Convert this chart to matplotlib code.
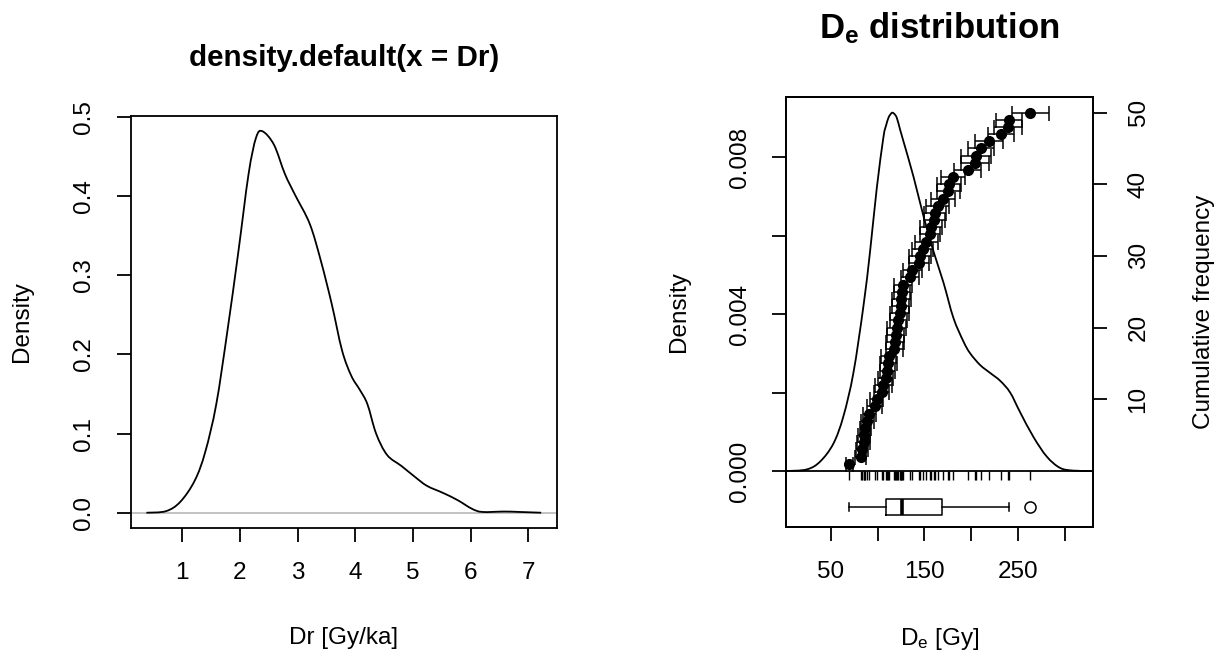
import numpy as np
import matplotlib
matplotlib.use("Agg")
import matplotlib.pyplot as plt
from matplotlib.path import Path
from matplotlib.patches import PathPatch

plt.rcParams['font.family'] = ['Liberation Sans', 'DejaVu Sans']
plt.rcParams['mathtext.fontset'] = 'custom'
plt.rcParams['mathtext.rm'] = 'Liberation Sans'
plt.rcParams['mathtext.it'] = 'Liberation Sans:italic'
plt.rcParams['mathtext.bf'] = 'Liberation Sans:bold'

# ---- Left panel: density of Dr ----
dr_x = [0.38, 0.72, 0.97, 1.22, 1.40, 1.59, 1.78, 1.97, 2.15, 2.28, 2.39, 2.59, 2.78,
        2.96, 3.21, 3.40, 3.59, 3.77, 3.93, 4.08, 4.21, 4.36, 4.55, 4.80, 5.02, 5.24,
        5.52, 5.77, 6.02, 6.20, 6.58, 6.83, 7.22]
dr_density = [0.0, 0.002, 0.014, 0.041, 0.077, 0.137, 0.228, 0.328, 0.428, 0.474, 0.482,
              0.465, 0.428, 0.401, 0.365, 0.319, 0.264, 0.205, 0.173, 0.155, 0.137, 0.100,
              0.073, 0.059, 0.046, 0.034, 0.025, 0.016, 0.005, 0.001, 0.0015, 0.001, 0.0]
left_xticks = [1, 2, 3, 4, 5, 6, 7]
left_yticks = [0.0, 0.1, 0.2, 0.3, 0.4, 0.5]

# ---- Right panel: De distribution ----
de_values = [70, 82, 83.5, 85, 85.5, 87, 89, 91, 97, 99,
             104.5, 106, 108.5, 110.5, 111.5, 112, 118, 118.5, 119.5, 120.5,
             122, 123.5, 124.5, 125.5, 126, 127, 134.5, 137, 144, 145,
             148, 152, 156, 157, 160.5, 161.5, 164, 170, 175.5, 176,
             180.6, 196, 204, 205, 210.6, 219, 232, 239, 240, 263]
de_errors = [4, 6, 6, 7, 6, 6, 7, 7, 8, 7,
             8, 9, 8, 8, 9, 8, 9, 10, 9, 10,
             9, 10, 9, 10, 9, 10, 10, 10, 11, 12,
             11, 12, 11, 12, 11, 12, 12, 13, 12, 13,
             13, 14, 15, 16, 14, 15, 14, 15, 14, 20]
kde_x = [3, 24.5, 38.7, 52.9, 63.6, 74.2, 84.9, 92, 99.1, 106.2, 109, 111.6, 113.5, 115.5,
         117.8, 120.5, 124, 127.6, 138.3, 148.9, 159.6, 170.3, 180.9, 191.6, 198.7, 209.4,
         220, 230.7, 241.4, 252, 266.2, 280.4, 294.6, 308.9, 329]
kde_density = [0.0, 0.00004, 0.00024, 0.0007, 0.0014, 0.0025, 0.0042, 0.0056, 0.0072, 0.0085,
               0.0088, 0.0090, 0.00908, 0.00913, 0.00910, 0.0090, 0.0087, 0.0084, 0.0075,
               0.0065, 0.0056, 0.0048, 0.0039, 0.0033, 0.0030, 0.0027, 0.0025, 0.0023,
               0.0020, 0.0015, 0.00087, 0.00037, 0.00008, 0.00001, 0.0]
right_xticks = [50, 100, 150, 200, 250, 300]
right_xticklabels = ['50', '', '150', '', '250', '']
right_yticks = [0.000, 0.002, 0.004, 0.006, 0.008]
right_yticklabels = ['0.000', '', '0.004', '', '0.008']
cum_ticks = [10, 20, 30, 40, 50]

FS = 17.5
W, H = 1223, 651
fig = plt.figure(figsize=(W / 100, H / 100), dpi=100)


def fr(x0, y0, x1, y1):
    return [x0 / W, 1 - y1 / H, (x1 - x0) / W, (y1 - y0) / H]


def smooth_curve(axis, xs, ys, **kw):
    """Draw a smooth (Catmull-Rom as Bezier) line through the given points."""
    xs = np.asarray(xs, float)
    ys = np.asarray(ys, float)
    verts = [(xs[0], ys[0])]
    codes = [Path.MOVETO]
    n = len(xs)
    for i in range(n - 1):
        p0 = (xs[max(i - 1, 0)], ys[max(i - 1, 0)])
        p1 = (xs[i], ys[i])
        p2 = (xs[i + 1], ys[i + 1])
        p3 = (xs[min(i + 2, n - 1)], ys[min(i + 2, n - 1)])
        c1 = (p1[0] + (p2[0] - p0[0]) / 6, p1[1] + (p2[1] - p0[1]) / 6)
        c2 = (p2[0] - (p3[0] - p1[0]) / 6, p2[1] - (p3[1] - p1[1]) / 6)
        verts += [c1, c2, p2]
        codes += [Path.CURVE4] * 3
    axis.add_patch(PathPatch(Path(verts, codes), fill=False, **kw))


TL = 10.4
LW = 1.3
# ------------- left
ax = fig.add_axes(fr(130.6, 116, 557, 528))
smooth_curve(ax, dr_x, dr_density, edgecolor='black', lw=LW)
ax.axhline(0, color='#BEBEBE', lw=LW, zorder=0)
ax.set_xlim(0.106, 7.494)
ax.set_ylim(-0.0193, 0.5013)
ax.set_xticks(left_xticks)
ax.set_xticklabels([str(v) for v in left_xticks])
ax.set_yticks(left_yticks)
ax.set_yticklabels(['%.1f' % v for v in left_yticks])
ax.tick_params(direction='out', length=TL, width=LW, labelsize=FS)
ax.tick_params(axis='x', pad=14)
ax.tick_params(axis='y', labelrotation=90, pad=15)
for lab in ax.get_yticklabels():
    lab.set_va('center')
for sp in ax.spines.values():
    sp.set_linewidth(LW)
ax.set_title('density.default(x = Dr)', fontsize=21.3, fontweight='bold', pad=36)
ax.set_xlabel('Dr [Gy/ka]', fontsize=FS, labelpad=31)
ax.set_ylabel('Density', fontsize=FS, labelpad=29)

# ------------- right
axr = fig.add_axes(fr(786, 97, 1093, 527))
smooth_curve(axr, kde_x, kde_density, edgecolor='black', lw=LW)
axr.axhline(0, color='black', lw=LW)
axr.set_xlim(2.3, 329.8)
axr.set_ylim(-0.001427, 0.00953)
axr.set_xticks(right_xticks)
axr.set_xticklabels(right_xticklabels)
axr.set_yticks(right_yticks)
axr.set_yticklabels(right_yticklabels)
axr.tick_params(direction='out', length=TL, width=LW, labelsize=FS)
axr.tick_params(axis='x', pad=14)
axr.tick_params(axis='y', labelrotation=90, pad=15)
for lab in axr.get_yticklabels():
    lab.set_va('center')
for sp in axr.spines.values():
    sp.set_linewidth(LW)
# rug
axr.vlines(de_values, -0.00023, 0, color='black', lw=1.0)
# boxplot
axr.boxplot(de_values, vert=False, positions=[-0.00091], widths=0.00041,
            manage_ticks=False, whis=1.5,
            boxprops=dict(color='black', lw=1.1),
            whiskerprops=dict(color='black', lw=1.1, linestyle='-'),
            capprops=dict(color='black', lw=1.1),
            medianprops=dict(color='black', lw=2.6),
            flierprops=dict(marker='o', markerfacecolor='white', markeredgecolor='black',
                            markersize=8, markeredgewidth=1.1))
axr.set_title(r'$\mathbf{D_e}$ distribution', fontsize=25, fontweight='bold', pad=42)
axr.set_xlabel(r'D$_\mathrm{e}$ [Gy]', fontsize=FS, labelpad=31)
axr.set_ylabel('Density', fontsize=FS, labelpad=28)

ax2 = axr.twinx()
ax2.set_ylim(-0.001427 * 5474, 0.00953 * 5474)
ranks = np.arange(1, len(de_values) + 1)
ax2.errorbar(de_values, ranks, xerr=de_errors, fmt='o', color='black', ms=7,
             capsize=5.4, elinewidth=1.1, capthick=1.1)
ax2.set_yticks(cum_ticks)
ax2.set_yticklabels([str(v) for v in cum_ticks])
ax2.tick_params(direction='out', length=TL, width=LW, labelsize=FS)
ax2.tick_params(axis='y', labelrotation=90, pad=14.5)
for lab in ax2.get_yticklabels():
    lab.set_va('center')
ax2.set_ylabel('Cumulative frequency', fontsize=FS, labelpad=31)
for sp in ax2.spines.values():
    sp.set_linewidth(LW)

fig.savefig('out.png', dpi=100)
